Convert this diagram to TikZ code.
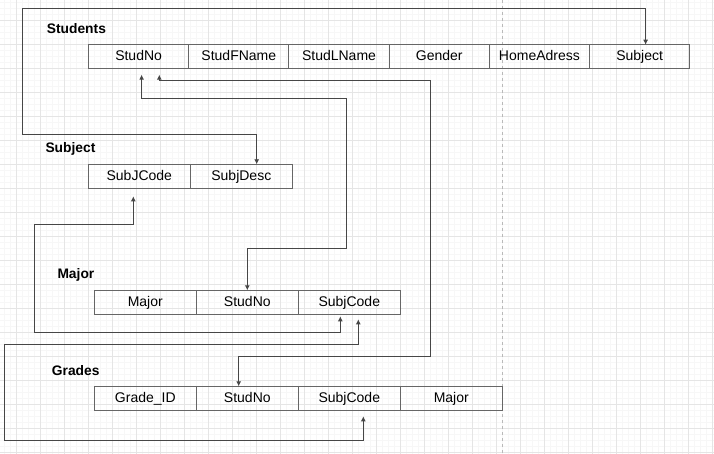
\documentclass[tikz,border=0pt]{standalone}
\usepackage{fontspec}
\setmainfont{Liberation Sans}
\usepackage{tikz}
\usetikzlibrary{arrows.meta,positioning}

\definecolor{cellline}{RGB}{102,102,102}
\definecolor{linkline}{RGB}{70,70,70}

\tikzset{
  cell/.style={draw=cellline, line width=0.9pt, minimum width=#1, minimum height=24,
    inner sep=0, outer sep=0, text height=11pt, text depth=3pt,
    font=\fontsize{14}{16}\selectfont},
  cell/.default=102,
  title/.style={anchor=west, inner sep=0, font=\fontsize{13.8}{16}\selectfont\bfseries},
  link/.style={draw=linkline, line width=0.9pt,
    {Latex[length=5pt,width=5pt]}-{Latex[length=5pt,width=5pt]}}
}

\begin{document}
\begin{tikzpicture}[x=1pt, y=-1pt]
				% page and grid
				\fill[white] (0,0) rectangle (714,454);
				\useasboundingbox (0,0) rectangle (714,454);
				\foreach \gx in {4.3,10.3,...,714} \draw[gray!6, line width=0.5pt] (\gx,0)--(\gx,454);
				\foreach \gy in {2,8,...,454} \draw[gray!6, line width=0.5pt] (0,\gy)--(714,\gy);
				\foreach \gx in {16.3,40.3,...,714} \draw[gray!20, line width=0.7pt] (\gx,0)--(\gx,454);
				\foreach \gy in {20,44,...,454} \draw[gray!20, line width=0.7pt] (0,\gy)--(714,\gy);
				\draw[gray!55, line width=0.7pt, dash pattern=on 3pt off 3pt] (502.7,0)--(502.7,454);

				% Students
				\node[title] (tstud) at (46.7,29) {Students};
				\node[cell=100.2] (s1) at (138.6,56.7) {StudNo};
				\node[cell=100.2, right=0pt of s1] (s2) {StudFName};
				\node[cell=100.2, right=0pt of s2] (s3) {StudLName};
				\node[cell=100.2, right=0pt of s3] (s4) {Gender};
				\node[cell=100.2, right=0pt of s4] (s5) {HomeAdress};
				\node[cell=100.2, right=0pt of s5] (s6) {Subject};

				% Subject
				\node[title] (tsubj) at (45.3,149) {Subject};
				\node[cell] (j1) at (139.3,176.3) {SubJCode};
				\node[cell, right=0pt of j1] (j2) {SubjDesc};

				% Major
				\node[title] (tmaj) at (57.3,275) {Major};
				\node[cell] (m1) at (145.3,302.3) {Major};
				\node[cell, right=0pt of m1] (m2) {StudNo};
				\node[cell, right=0pt of m2] (m3) {SubjCode};

				% Grades
				\node[title] (tgrad) at (51.7,371) {Grades};
				\node[cell] (g1) at (145.3,398.3) {Grade\_ID};
				\node[cell, right=0pt of g1] (g2) {StudNo};
				\node[cell, right=0pt of g2] (g3) {SubjCode};
				\node[cell, right=0pt of g3] (g4) {Major};

				% links
				\draw[link] ([xshift=6pt]s6.north) |- (22.3,8.3) -- (22.3,134.7) -| ([xshift=15.4pt]j2.north);
				\draw[link] ([xshift=3pt,yshift=-6pt]s1.south) |- (346.7,98.3) -- (346.7,248.3) -| (m2.north);
				\draw[link] ([xshift=20.7pt,yshift=-6pt]s1.south) |- (430.3,80.3) -- (430.3,356.3) -| ([xshift=-8.6pt]g2.north);
				\draw[link] ([xshift=-6pt,yshift=-8pt]j1.south) |- (34.3,224.7) -- (34.3,332.3) -| ([xshift=-9pt,yshift=-2pt]m3.south);
				\draw[link] ([xshift=9pt,yshift=-5pt]m3.south) |- (4.3,344.3) -- (4.3,440.3) -| ([xshift=14pt,yshift=-6pt]g3.south);
\end{tikzpicture}
\end{document}
